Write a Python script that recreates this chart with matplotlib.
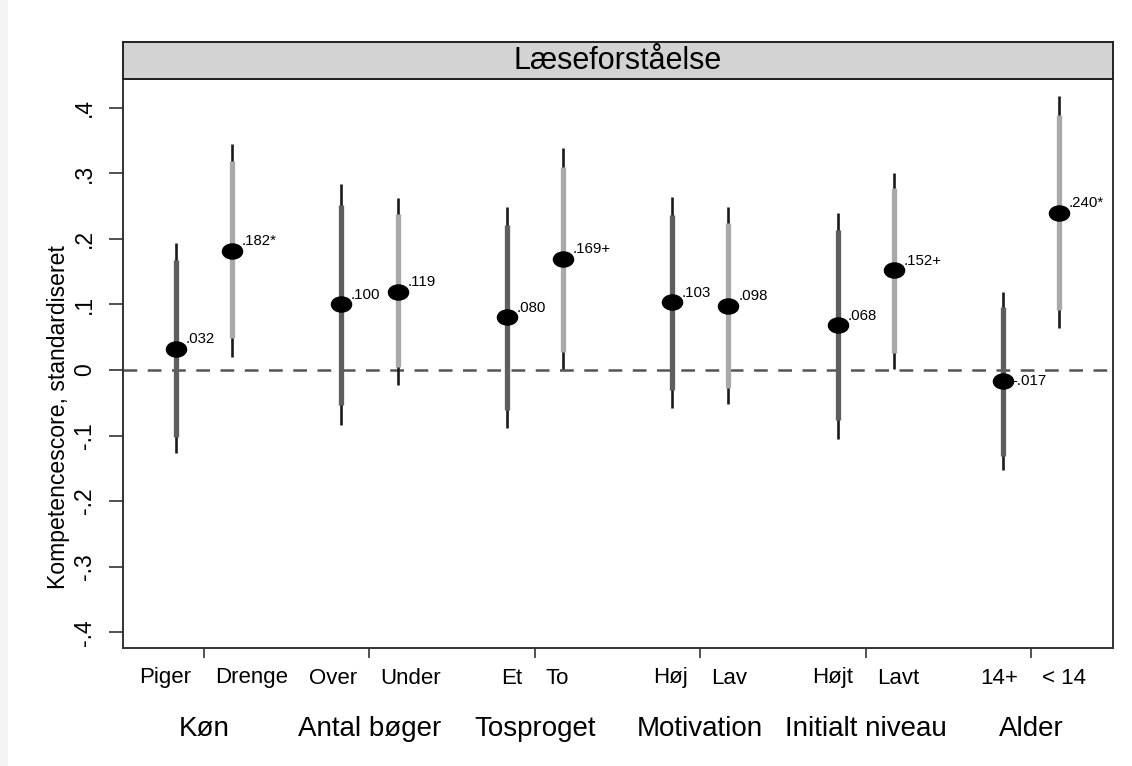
import matplotlib
matplotlib.use("Agg")
import matplotlib.pyplot as plt
from matplotlib.path import Path
from matplotlib.patches import Rectangle
import matplotlib.transforms as mtransforms
import numpy as np

plt.rcParams['font.family'] = ['Liberation Sans', 'DejaVu Sans']

# ---- data ----
groups = ["Køn", "Antal bøger", "Tosproget", "Motivation", "Initialt niveau", "Alder"]
categories = ["Piger", "Drenge", "Over", "Under", "Et", "To",
              "Høj", "Lav", "Højt", "Lavt", "14+", "< 14"]
estimates = [0.032, 0.182, 0.100, 0.119, 0.080, 0.169,
             0.103, 0.098, 0.068, 0.152, -0.017, 0.240]
significance = ["", "*", "", "", "", "+", "", "", "", "+", "", "*"]
ci95_low = [-0.126, 0.020, -0.084, -0.023, -0.089, 0.001,
            -0.058, -0.052, -0.105, 0.001, -0.152, 0.064]
ci95_high = [0.193, 0.344, 0.283, 0.262, 0.248, 0.338,
             0.264, 0.248, 0.240, 0.301, 0.119, 0.417]
ci90_low = [-0.102, 0.049, -0.053, 0.005, -0.061, 0.027,
            -0.030, -0.028, -0.077, 0.026, -0.132, 0.091]
ci90_high = [0.167, 0.319, 0.252, 0.238, 0.221, 0.309,
             0.236, 0.224, 0.213, 0.277, 0.096, 0.388]
yticks = [-0.4, -0.3, -0.2, -0.1, 0.0, 0.1, 0.2, 0.3, 0.4]
ytick_labels = ["-.4", "-.3", "-.2", "-.1", "0", ".1", ".2", ".3", ".4"]
panel_title = "Læseforståelse"
ylabel = "Kompetencescore, standardiseret"


def fmt(v, s):
    t = f"{v:.3f}"
    t = t.replace("-0.", "-.") if t.startswith("-") else t.lstrip("0")
    return t + s


W, H = 1132, 766
fig = plt.figure(figsize=(W / 100, H / 100), dpi=100)
fig.patch.set_facecolor("white")
fig.patches.append(Rectangle((0, 0), 8 / W, 1, transform=fig.transFigure,
                             facecolor="#f4f4f4", edgecolor="none", zorder=0))

left, right, top, bottom = 123, 1113, 79, 648
ax = fig.add_axes([left / W, 1 - bottom / H, (right - left) / W, (bottom - top) / H])
strip = fig.add_axes([left / W, 1 - top / H, (right - left) / W, (top - 42) / H])

# strip
strip.set_facecolor("#d3d3d3")
strip.set_xticks([]); strip.set_yticks([])
for sp in strip.spines.values():
    sp.set_color("#222222"); sp.set_linewidth(1.4)
strip.text(0.5, 0.48, panel_title, ha="center", va="center", fontsize=22,
           transform=strip.transAxes)

# positions
offset = 0.17
xpos = []
for g in range(len(groups)):
    xpos += [g + 1 - offset, g + 1 + offset]
xpos = np.array(xpos)
thick_colors = ["#5e5e5e", "#a9a9a9"] * len(groups)

ax.axhline(0, color="#555555", lw=1.8, dashes=(5.5, 4.2), zorder=1)

ax.vlines(xpos, ci95_low, ci95_high, color="#1a1a1a", lw=1.9, zorder=2)
ax.vlines(xpos, ci90_low, ci90_high, colors=thick_colors, lw=3.8, zorder=3)

circ = Path.unit_circle()
ell = Path(circ.vertices * np.array([1.0, 0.75]), circ.codes)
ax.plot(xpos, estimates, linestyle="none", marker=ell, markersize=14.5,
        color="black", zorder=4)

for x, v, s in zip(xpos, estimates, significance):
    dy = 0 if v < 0 else 7
    ax.annotate(fmt(v, s), (x, v), xytext=(7, dy), textcoords="offset points",
                ha="left", va="center", fontsize=10.8, zorder=5)

ax.set_xlim(0.51, 6.495)
ax.set_ylim(-0.424, 0.4436)
ax.set_yticks(yticks)
ax.set_yticklabels(ytick_labels, rotation=90, va="center", fontsize=16.5)
ax.tick_params(axis="y", length=10, width=1.2, pad=9.5, color="#333333")
ax.set_xticks(np.arange(1, len(groups) + 1))
ax.set_xticklabels([""] * len(groups))
ax.tick_params(axis="x", length=7.5, width=1.2, color="#333333")
for sp in ax.spines.values():
    sp.set_color("#333333"); sp.set_linewidth(1.4)

trans = mtransforms.blended_transform_factory(ax.transData, fig.transFigure)
for i, c in enumerate(categories):
    g = i // 2 + 1
    if i % 2 == 0:
        ax.annotate(c, (g, 1 - 678 / H), xycoords=trans, xytext=(-9, 0),
                    textcoords="offset points", ha="right", va="center",
                    fontsize=16)
    else:
        ax.annotate(c, (g, 1 - 678 / H), xycoords=trans, xytext=(8, 0),
                    textcoords="offset points", ha="left", va="center",
                    fontsize=16)
for g, name in enumerate(groups):
    ax.text(g + 1, 1 - 729 / H, name, transform=trans, ha="center", va="center",
            fontsize=20)

fig.text(59 / W, 1 - 417 / H, ylabel, rotation=90, ha="center", va="center",
         fontsize=16.6)

fig.savefig("out.png", dpi=100)
